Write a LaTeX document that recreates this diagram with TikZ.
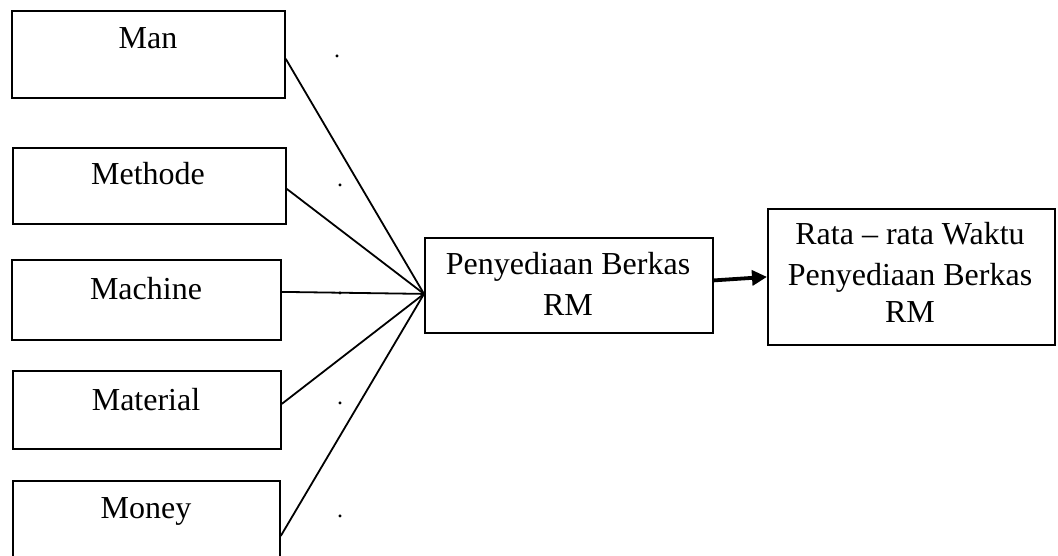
\documentclass[tikz,border=0pt]{standalone}
\usepackage{fontspec}
\setmainfont{Liberation Serif}
\usetikzlibrary{arrows.meta}
\begin{document}
\begin{tikzpicture}[x=1pt,y=-1pt,
  box/.style={draw,line width=1.8pt,inner sep=0pt,anchor=north west},
  lbl/.style={anchor=base,inner sep=0pt,font=\fontsize{32}{40}\selectfont},
  conn/.style={line width=1.8pt},
  thickarrow/.style={line width=3.8pt,-{Triangle[length=15pt,width=15pt]}},
  dotmark/.style={anchor=center,inner sep=0pt,font=\fontsize{24}{26}\selectfont}]
\useasboundingbox (0,0) rectangle (1058,556);
% boxes
\node[box,minimum width=273pt,minimum height=87pt] (man) at (11,10) {};
\node[box,minimum width=273pt,minimum height=76pt] (methode) at (12,147) {};
\node[box,minimum width=269pt,minimum height=80pt] (machine) at (11,259) {};
\node[box,minimum width=268pt,minimum height=78pt] (material) at (12,370) {};
\node[box,minimum width=267pt,minimum height=90pt] (money) at (12,480) {};
\node[box,minimum width=288pt,minimum height=95pt] (cen) at (424,237) {};
\node[box,minimum width=287pt,minimum height=136pt] (res) at (767,208) {};
% texts
\node[lbl] (tman) at (148,49) {Man};
\node[lbl] (tmethode) at (148,185) {Methode};
\node[lbl] (tmachine) at (146,299) {Machine};
\node[lbl] (tmaterial) at (146,410) {Material};
\node[lbl] (tmoney) at (146,518) {Money};
\node[lbl] (tcen1) at (568,275) {Penyediaan Berkas};
\node[lbl] (tcen2) at (568,316) {RM};
\node[lbl] (tres1) at (910,245) {Rata – rata Waktu};
\node[lbl] (tres2) at (910,285) {Penyediaan Berkas};
\node[lbl] (tres3) at (910,322) {RM};
% dots
\node[dotmark] (d1) at (337,56) {.};
\node[dotmark] (d2) at (340,185) {.};
\node[dotmark] (d3) at (340,293) {.};
\node[dotmark] (d4) at (340,403) {.};
\node[dotmark] (d5) at (340,516) {.};
% connectors
\coordinate (conv) at ([yshift=-8.5pt]cen.west);
\draw[conn] ([yshift=-4.5pt]man.east) -- (conv);
\draw[conn] ([yshift=-3pt]methode.east) -- (conv);
\draw[conn] ([yshift=8pt]machine.east) -- (conv);
\draw[conn] ([yshift=6pt]material.east) -- (conv);
\draw[conn] ([yshift=-10pt]money.east) -- (conv);
\draw[thickarrow] ([yshift=5pt]cen.east) -- (res.west);
\end{tikzpicture}
\end{document}
